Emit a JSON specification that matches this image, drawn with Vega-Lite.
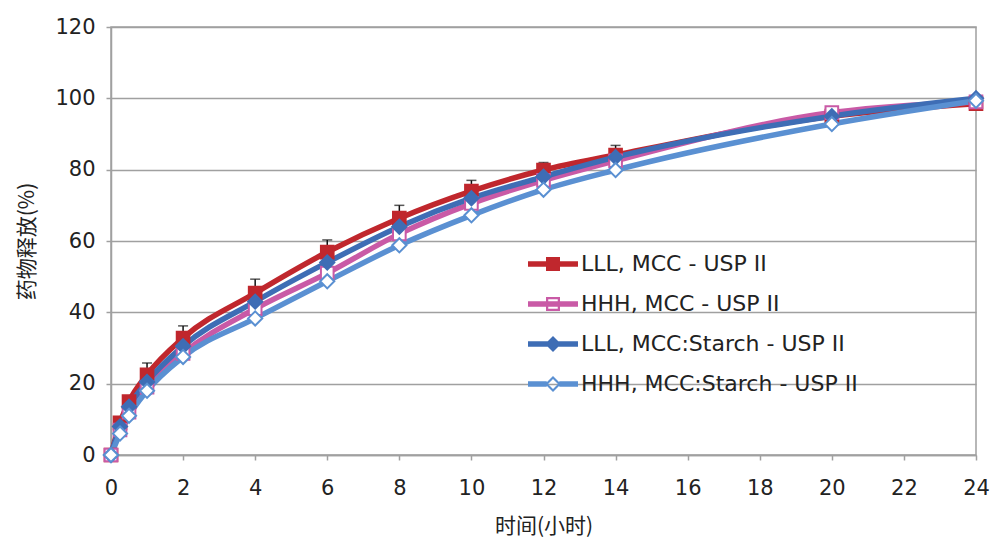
{
  "$schema": "https://vega.github.io/schema/vega-lite/v6.json",
  "width": 865,
  "height": 428,
  "autosize": {"type": "none"},
  "padding": {"left": 111, "top": 27, "right": 15, "bottom": 87},
  "background": "white",
  "config": {
    "view": {"stroke": "#A0A0A0", "strokeWidth": 1.5},
    "font": "DejaVu Sans"
  },
  "data": {
    "values": [
      {"series": "LLL, MCC - USP II", "t": 0, "v": 0},
      {"series": "LLL, MCC - USP II", "t": 0.25, "v": 9},
      {"series": "LLL, MCC - USP II", "t": 0.5, "v": 15},
      {"series": "LLL, MCC - USP II", "t": 1, "v": 22.5, "hi": 25.8},
      {"series": "LLL, MCC - USP II", "t": 2, "v": 32.8, "hi": 36.2},
      {"series": "LLL, MCC - USP II", "t": 4, "v": 45.4, "hi": 49.3},
      {"series": "LLL, MCC - USP II", "t": 6, "v": 56.9, "hi": 60.3},
      {"series": "LLL, MCC - USP II", "t": 8, "v": 66.4, "hi": 70},
      {"series": "LLL, MCC - USP II", "t": 10, "v": 74, "hi": 77},
      {"series": "LLL, MCC - USP II", "t": 12, "v": 79.9, "hi": 82},
      {"series": "LLL, MCC - USP II", "t": 14, "v": 84.1, "hi": 86.8},
      {"series": "LLL, MCC - USP II", "t": 20, "v": 95},
      {"series": "LLL, MCC - USP II", "t": 24, "v": 98.5},
      {"series": "HHH, MCC - USP II", "t": 0, "v": 0},
      {"series": "HHH, MCC - USP II", "t": 0.25, "v": 7},
      {"series": "HHH, MCC - USP II", "t": 0.5, "v": 12},
      {"series": "HHH, MCC - USP II", "t": 1, "v": 19},
      {"series": "HHH, MCC - USP II", "t": 2, "v": 28.5},
      {"series": "HHH, MCC - USP II", "t": 4, "v": 41},
      {"series": "HHH, MCC - USP II", "t": 6, "v": 51},
      {"series": "HHH, MCC - USP II", "t": 8, "v": 62},
      {"series": "HHH, MCC - USP II", "t": 10, "v": 70.5},
      {"series": "HHH, MCC - USP II", "t": 12, "v": 77},
      {"series": "HHH, MCC - USP II", "t": 14, "v": 82.5},
      {"series": "HHH, MCC - USP II", "t": 20, "v": 96},
      {"series": "HHH, MCC - USP II", "t": 24, "v": 99},
      {"series": "LLL, MCC:Starch - USP II", "t": 0, "v": 0},
      {"series": "LLL, MCC:Starch - USP II", "t": 0.25, "v": 8},
      {"series": "LLL, MCC:Starch - USP II", "t": 0.5, "v": 13.5},
      {"series": "LLL, MCC:Starch - USP II", "t": 1, "v": 20.5},
      {"series": "LLL, MCC:Starch - USP II", "t": 2, "v": 30.5},
      {"series": "LLL, MCC:Starch - USP II", "t": 4, "v": 43},
      {"series": "LLL, MCC:Starch - USP II", "t": 6, "v": 54},
      {"series": "LLL, MCC:Starch - USP II", "t": 8, "v": 64},
      {"series": "LLL, MCC:Starch - USP II", "t": 10, "v": 72},
      {"series": "LLL, MCC:Starch - USP II", "t": 12, "v": 78},
      {"series": "LLL, MCC:Starch - USP II", "t": 14, "v": 83.5},
      {"series": "LLL, MCC:Starch - USP II", "t": 20, "v": 95},
      {"series": "LLL, MCC:Starch - USP II", "t": 24, "v": 100},
      {"series": "HHH, MCC:Starch - USP II", "t": 0, "v": 0},
      {"series": "HHH, MCC:Starch - USP II", "t": 0.25, "v": 6},
      {"series": "HHH, MCC:Starch - USP II", "t": 0.5, "v": 11},
      {"series": "HHH, MCC:Starch - USP II", "t": 1, "v": 18},
      {"series": "HHH, MCC:Starch - USP II", "t": 2, "v": 27.5},
      {"series": "HHH, MCC:Starch - USP II", "t": 4, "v": 38.3},
      {"series": "HHH, MCC:Starch - USP II", "t": 6, "v": 48.7},
      {"series": "HHH, MCC:Starch - USP II", "t": 8, "v": 58.8},
      {"series": "HHH, MCC:Starch - USP II", "t": 10, "v": 67.2},
      {"series": "HHH, MCC:Starch - USP II", "t": 12, "v": 74.4},
      {"series": "HHH, MCC:Starch - USP II", "t": 14, "v": 79.9},
      {"series": "HHH, MCC:Starch - USP II", "t": 20, "v": 92.8},
      {"series": "HHH, MCC:Starch - USP II", "t": 24, "v": 99.3}
    ]
  },
  "encoding": {
    "x": {
      "field": "t", "type": "quantitative",
      "scale": {"domain": [0, 24], "nice": false, "zero": false},
      "axis": {
        "title": "时间(小时)",
        "values": [0, 2, 4, 6, 8, 10, 12, 14, 16, 18, 20, 22, 24],
        "grid": false,
        "domainColor": "#A0A0A0", "domainWidth": 1.5,
        "tickColor": "#A0A0A0", "tickWidth": 1.5, "tickSize": 5,
        "labelFont": "DejaVu Sans", "labelFontSize": 21, "labelColor": "#222222",
        "labelPadding": 17, "labelFlush": false,
        "titleFont": "Noto Sans CJK SC", "titleFontSize": 21, "titleFontWeight": "normal",
        "titleColor": "#222222", "titlePadding": 17
      }
    },
    "y": {
      "field": "v", "type": "quantitative",
      "scale": {"domain": [0, 120], "nice": false},
      "axis": {
        "title": "药物释放(%)",
        "values": [0, 20, 40, 60, 80, 100, 120],
        "grid": true, "gridColor": "#A0A0A0", "gridWidth": 1.5,
        "domainColor": "#A0A0A0", "domainWidth": 1.5,
        "tickColor": "#A0A0A0", "tickWidth": 1.5, "tickSize": 5,
        "labelFont": "DejaVu Sans", "labelFontSize": 21, "labelColor": "#222222",
        "labelPadding": 11,
        "titleFont": "Noto Sans CJK SC", "titleFontSize": 21, "titleFontWeight": "normal",
        "titleColor": "#222222", "titlePadding": 17
      }
    }
  },
  "layer": [
    {
      "transform": [{"filter": "datum.t == 0"}],
      "mark": {"type": "point", "filled": true, "size": 20},
      "encoding": {
        "color": {
          "field": "series", "type": "nominal",
          "scale": {
            "domain": ["LLL, MCC - USP II", "HHH, MCC - USP II", "LLL, MCC:Starch - USP II", "HHH, MCC:Starch - USP II"],
            "range": ["#C0272D", "#C95AA6", "#3E6DB5", "#5A90D2"]
          },
          "legend": {
            "title": null,
            "orient": "none",
            "legendX": 417,
            "legendY": 212,
            "symbolSize": 2500,
            "symbolOpacity": 1,
            "symbolStrokeWidth": 0,
            "labelFont": "DejaVu Sans",
            "labelFontSize": 22,
            "labelColor": "#222222",
            "labelOffset": 3,
            "labelLimit": 400,
            "rowPadding": 4,
            "padding": 0
          }
        },
        "shape": {
          "field": "series", "type": "nominal",
          "scale": {
            "domain": ["LLL, MCC - USP II", "HHH, MCC - USP II", "LLL, MCC:Starch - USP II", "HHH, MCC:Starch - USP II"],
            "range": [
              "M-1,-0.11H1V0.11H-1Z M-0.28,-0.28H0.28V0.28H-0.28Z",
              "M-1,-0.11H1V0.11H-1Z M-0.28,-0.28H0.28V0.28H-0.28Z M-0.19,-0.19V0.19H0.19V-0.19Z",
              "M-1,-0.11H1V0.11H-1Z M0,-0.32L0.32,0L0,0.32L-0.32,0Z",
              "M-1,-0.11H-0.25V0.11H-1Z M0.25,-0.11H1V0.11H0.25Z M0,-0.32L0.32,0L0,0.32L-0.32,0Z M0,-0.2L-0.2,0L0,0.2L0.2,0Z"
            ]
          },
          "legend": {
            "title": null,
            "orient": "none",
            "legendX": 417,
            "legendY": 212,
            "symbolSize": 2500,
            "symbolOpacity": 1,
            "symbolStrokeWidth": 0,
            "labelFont": "DejaVu Sans",
            "labelFontSize": 22,
            "labelColor": "#222222",
            "labelOffset": 3,
            "labelLimit": 400,
            "rowPadding": 4,
            "padding": 0
          }
        }
      }
    },
    {
      "mark": {"type": "line", "strokeWidth": 5.5, "interpolate": "monotone"},
      "encoding": {
        "stroke": {
          "field": "series", "type": "nominal",
          "scale": {
            "domain": ["LLL, MCC - USP II", "HHH, MCC - USP II", "LLL, MCC:Starch - USP II", "HHH, MCC:Starch - USP II"],
            "range": ["#C0272D", "#C95AA6", "#3E6DB5", "#5A90D2"]
          },
          "legend": null
        },
        "order": {"field": "t", "type": "quantitative"}
      }
    },
    {
      "transform": [{"filter": "isValid(datum.hi)"}],
      "mark": {"type": "rule", "color": "#111111", "strokeWidth": 1.5},
      "encoding": {"y2": {"field": "hi"}}
    },
    {
      "transform": [{"filter": "isValid(datum.hi)"}],
      "mark": {"type": "tick", "orient": "horizontal", "color": "#111111", "thickness": 1.5, "size": 10},
      "encoding": {"y": {"field": "hi", "type": "quantitative"}}
    },
    {
      "transform": [{"filter": "indexof(datum.series, 'Starch') < 0"}],
      "mark": {"type": "point", "shape": "square", "size": 160, "strokeWidth": 2, "opacity": 1, "filled": false},
      "encoding": {
        "stroke": {"field": "series", "type": "nominal", "legend": null},
        "fill": {
          "field": "series", "type": "nominal",
          "scale": {
            "domain": ["LLL, MCC - USP II", "HHH, MCC - USP II", "LLL, MCC:Starch - USP II", "HHH, MCC:Starch - USP II"],
            "range": ["#C0272D", "#FFFFFF", "#3E6DB5", "#FFFFFF"]
          },
          "legend": null
        }
      }
    },
    {
      "transform": [{"filter": "indexof(datum.series, 'Starch') >= 0"}],
      "mark": {"type": "point", "shape": "diamond", "size": 200, "strokeWidth": 2, "opacity": 1, "filled": false},
      "encoding": {
        "stroke": {"field": "series", "type": "nominal", "legend": null},
        "fill": {"field": "series", "type": "nominal", "legend": null}
      }
    }
  ]
}
